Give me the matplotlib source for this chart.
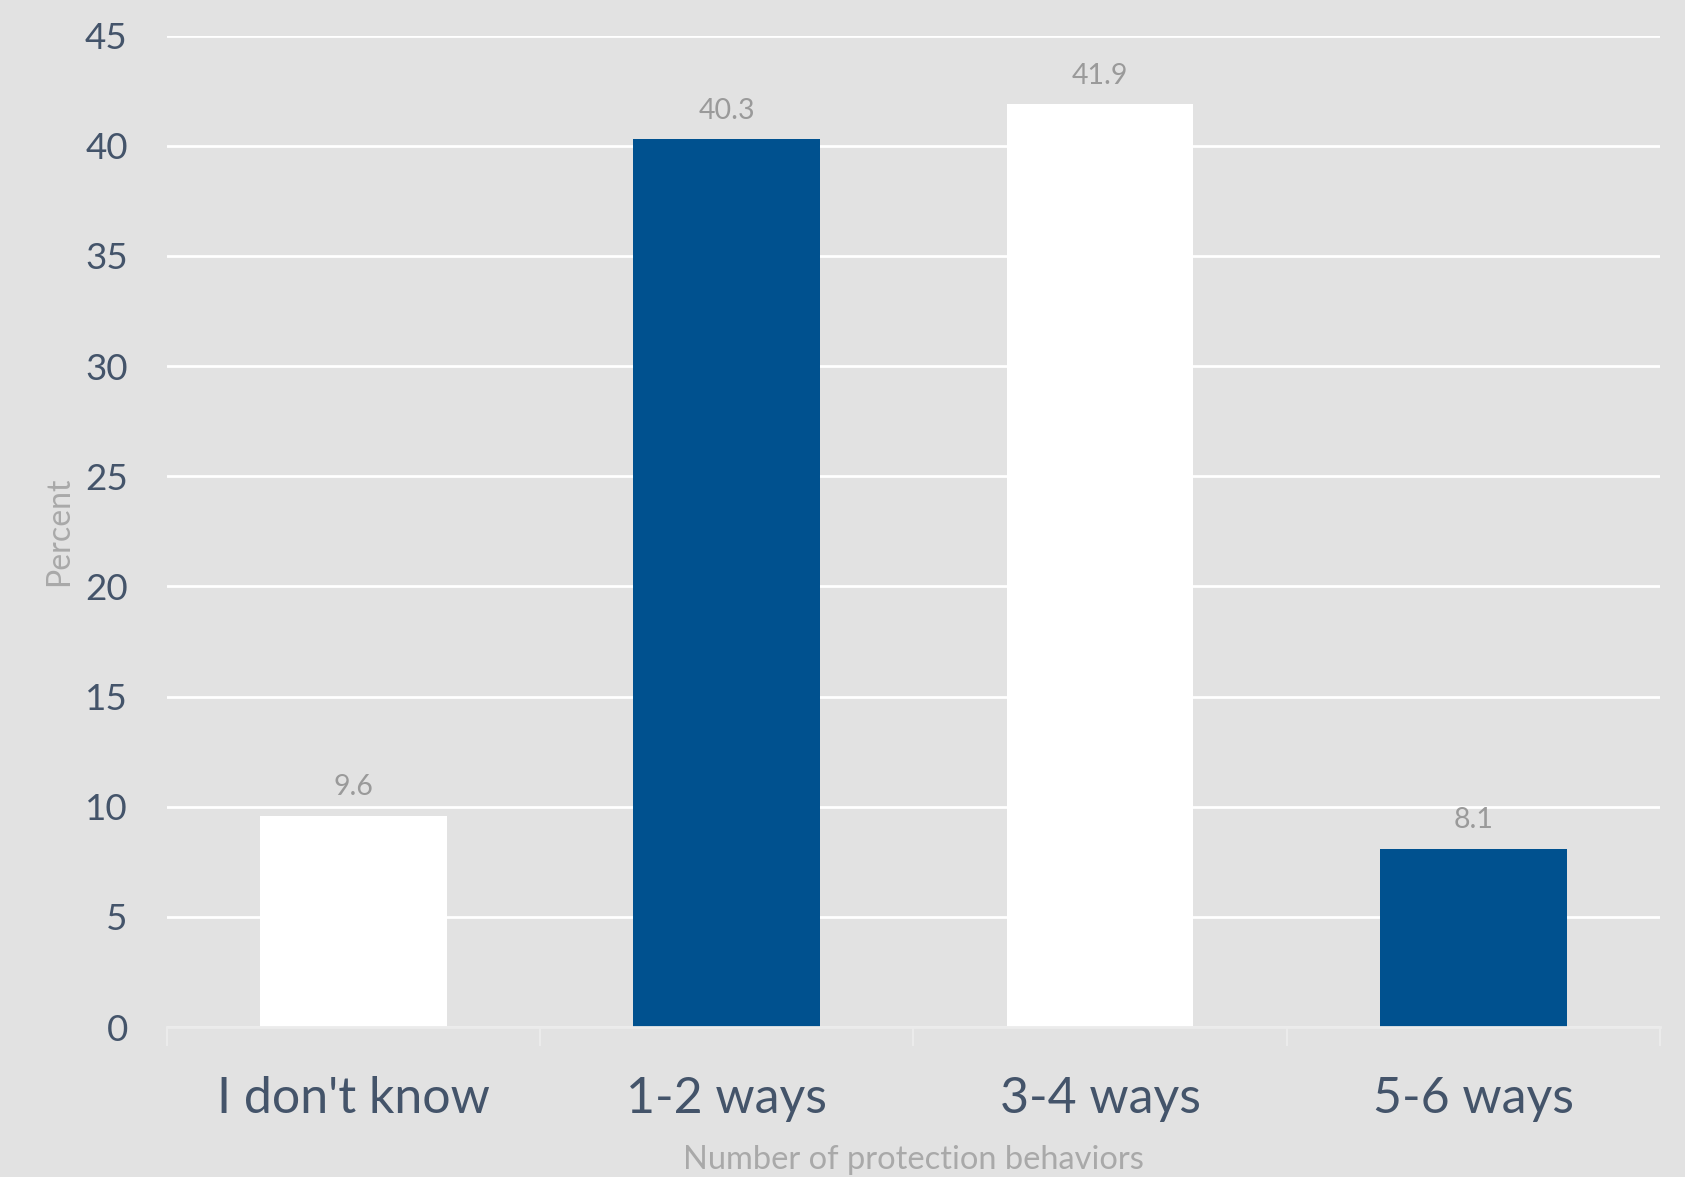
import matplotlib
matplotlib.use("Agg")
import matplotlib.pyplot as plt
import numpy as np

categories = ["I don't know", "1-2 ways", "3-4 ways", "5-6 ways"]
percent = [9.6, 40.3, 41.9, 8.1]
bar_colors = ["#ffffff", "#00518f", "#ffffff", "#00518f"]
y_ticks = [0, 5, 10, 15, 20, 25, 30, 35, 40, 45]
x_title = "Number of protection behaviors"
y_title = "Percent"

BG = "#e2e2e2"
TICK_COLOR = "#44546a"
VALUE_COLOR = "#9a9a9a"
TITLE_COLOR = "#a9a9a9"

plt.rcParams["font.family"] = ["Lato", "DejaVu Sans"]

fig = plt.figure(figsize=(16.85, 11.77), dpi=100, facecolor=BG)
ax = fig.add_axes([0.0989, 0.1274, 0.9852 - 0.0989, 0.9698 - 0.1274], facecolor=BG)

x = np.arange(len(categories))
bars = ax.bar(x, percent, width=0.5, color=bar_colors, zorder=3)

ax.set_xlim(-0.5, len(categories) - 0.5)
ax.set_ylim(0, 45)
ax.set_yticks(y_ticks)
ax.set_yticklabels([str(t) for t in y_ticks], fontsize=26.5, color=TICK_COLOR)
ax.tick_params(axis="y", length=0, pad=28)

# category labels centred under bars, tick marks at category boundaries
ax.set_xticks(x)
ax.set_xticklabels(categories, fontsize=36, color=TICK_COLOR)
ax.tick_params(axis="x", which="major", length=0, pad=35)
ax.set_xticks(np.arange(-0.5, len(categories)), minor=True)
ax.tick_params(axis="x", which="minor", length=14, width=1.5, color="#ebebeb")

ax.grid(axis="y", color="#ffffff", linewidth=2, zorder=0)
for side in ["top", "right", "left"]:
    ax.spines[side].set_visible(False)
ax.spines["bottom"].set_color("#ebebeb")
ax.spines["bottom"].set_linewidth(2)
ax.spines["bottom"].set_zorder(4)

for xi, v in zip(x, percent):
    ax.annotate(f"{v}", (xi, v), xytext=(0, 11), textcoords="offset points",
                ha="center", va="bottom", fontsize=20.5, color=VALUE_COLOR)

ax.set_xlabel(x_title, fontsize=23.5, color=TITLE_COLOR, labelpad=17)
ax.set_ylabel(y_title, fontsize=23, color=TITLE_COLOR)
ax.yaxis.set_label_coords(-0.062, 0.5)

fig.savefig("out.png", dpi=100, facecolor=BG)
